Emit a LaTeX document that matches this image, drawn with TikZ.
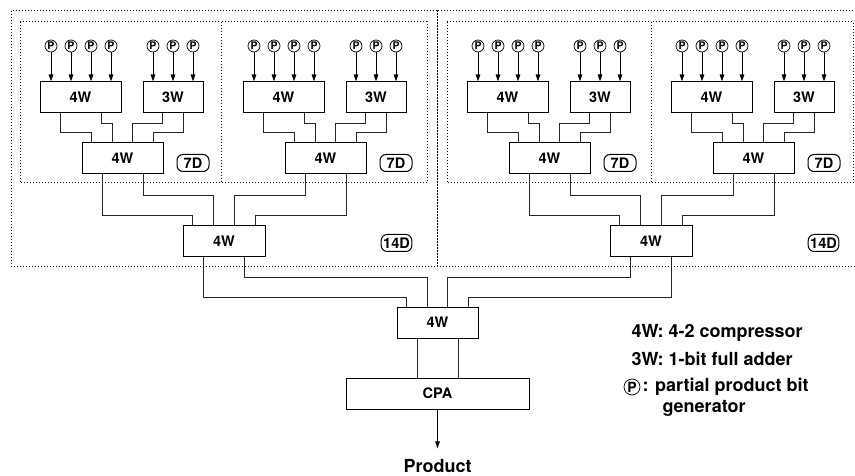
\documentclass[tikz,border=0pt]{standalone}
\usepackage{fontspec}
\setmainfont{TeX Gyre Heros}
\usepackage{tikz}
\usetikzlibrary{arrows.meta,calc}

\begin{document}
\begin{tikzpicture}[x=1pt, y=-1pt, line width=1pt,
    unit/.style={draw, fill=white, minimum height=31pt, inner sep=0pt,
      font=\fontsize{14.5}{14.5}\selectfont\bfseries},
    ppg/.style={draw, circle, minimum size=12pt, inner sep=0pt, line width=0.7pt,
      font=\fontsize{10.5}{10.5}\selectfont\bfseries},
    tag/.style={draw, rounded corners=6pt, minimum width=32pt, minimum height=17pt,
      inner sep=2pt, font=\fontsize{14.5}{14.5}\selectfont\bfseries},
    region/.style={dotted, line width=1pt},
    wire/.style={draw=black!85},
    feed/.style={-{Triangle[length=7pt,width=4.5pt]}},
    legend/.style={anchor=base west, inner sep=0pt,
      font=\fontsize{18}{18}\selectfont\bfseries}]

  \clip (0,0) rectangle (855,476);

  % 14D regions (right one runs off the page)
  \draw[region] (11,11) rectangle (437,266);
  \draw[region] (437,11) rectangle (870,266);

  % 7D regions
  \draw[region] (20,22) rectangle (221,183);
  \draw[region] (221,22) rectangle (427,183);
  \draw[region] (447,22) rectangle (651,183);
  \draw[region] (651,22) rectangle (853,183);

  % 7D blocks: 4W + 3W feeding one 4W
  \foreach \ox/\nm in {0/a,203/b,427/c,631/d}{
    \begin{scope}[shift={(\ox,0)}]
      \node[unit, minimum width=81pt] (\nm U) at (80.5,97.5) {4W};
      \node[unit, minimum width=60pt] (\nm T) at (173,97.5) {3W};
      \node[unit, minimum width=81pt] (\nm L) at (122.5,158.5) {4W};
      \node[tag] (\nm tag) at (193,163) {7D};
      \foreach \px [count=\i] in {51,71,91,111}{
        \node[ppg] (\nm p\i) at (\px,46) {P};
        \draw[feed] (\nm p\i) -- (\nm p\i |- \nm U.north);
      }
      \foreach \px [count=\i] in {153,173,193}{
        \node[ppg] (\nm q\i) at (\px,46) {P};
        \draw[feed] (\nm q\i) -- (\nm q\i |- \nm T.north);
      }
      \draw[wire] ($(\nm U.south west)!.25!(\nm U.south east)$) -- ++(0,19)
        -| ($(\nm L.north west)!.125!(\nm L.north east)$);
      \draw[wire] ($(\nm U.south west)!.75!(\nm U.south east)$) -- ++(0,10)
        -| ($(\nm L.north west)!.375!(\nm L.north east)$);
      \draw[wire] ($(\nm T.south west)!.333!(\nm T.south east)$) -- ++(0,10)
        -| ($(\nm L.north west)!.625!(\nm L.north east)$);
      \draw[wire] ($(\nm T.south west)!.667!(\nm T.south east)$) -- ++(0,19)
        -| ($(\nm L.north west)!.875!(\nm L.north east)$);
    \end{scope}
  }

  % 14D blocks: two 7D outputs into one 4W
  \foreach \ox/\nm/\ma/\mb in {0/e/a/b,427/f/c/d}{
    \begin{scope}[shift={(\ox,0)}]
      \node[unit, minimum width=82pt] (\nm) at (224,241) {4W};
      \node[tag, minimum width=29pt] (\nm tag) at (396.5,243) {14D};
      \draw[wire] ($(\ma L.south west)!.25!(\ma L.south east)$) -- ++(0,41)
        -| ($(\nm.north west)!.125!(\nm.north east)$);
      \draw[wire] ($(\ma L.south west)!.75!(\ma L.south east)$) -- ++(0,21)
        -| ($(\nm.north west)!.375!(\nm.north east)$);
      \draw[wire] ($(\mb L.south west)!.25!(\mb L.south east)$) -- ++(0,21)
        -| ($(\nm.north west)!.625!(\nm.north east)$);
      \draw[wire] ($(\mb L.south west)!.75!(\mb L.south east)$) -- ++(0,41)
        -| ($(\nm.north west)!.875!(\nm.north east)$);
    \end{scope}
  }

  % Final 4W and CPA
  \node[unit, minimum width=81pt] (fin) at (437.5,322.5) {4W};
  \draw[wire] ($(e.south west)!.25!(e.south east)$) -- ++(0,40)
    -| ($(fin.north west)!.125!(fin.north east)$);
  \draw[wire] ($(e.south west)!.75!(e.south east)$) -- ++(0,20)
    -| ($(fin.north west)!.375!(fin.north east)$);
  \draw[wire] ($(f.south west)!.25!(f.south east)$) -- ++(0,20)
    -| ($(fin.north west)!.625!(fin.north east)$);
  \draw[wire] ($(f.south west)!.75!(f.south east)$) -- ++(0,40)
    -| ($(fin.north west)!.875!(fin.north east)$);

  \node[unit, minimum width=183pt] (cpa) at (437.5,393.5) {CPA};
  \coordinate (fo1) at ($(fin.south west)!.25!(fin.south east)$);
  \coordinate (fo2) at ($(fin.south west)!.75!(fin.south east)$);
  \draw[wire] (fo1) -- (fo1 |- cpa.north);
  \draw[wire] (fo2) -- (fo2 |- cpa.north);

  \node[inner sep=0pt, anchor=base, font=\fontsize{18}{18}\selectfont\bfseries]
    (prod) at (437.5,472) {Product};
  \draw[feed] (cpa) -- ([yshift=10pt]prod.north);

  % Legend
  \node[legend] (k4) at (631,337) {4W: 4-2 compressor};
  \node[legend] (k3) at (631,365) {3W: 1-bit full adder};
  \node[ppg, minimum size=16pt, font=\fontsize{14}{14}\selectfont\bfseries]
    (kp) at (632,387) {P};
  \node[legend] (kt) at (642,391) {: partial product bit};
  \node[legend] (kg) at (662,412) {generator};
\end{tikzpicture}
\end{document}
